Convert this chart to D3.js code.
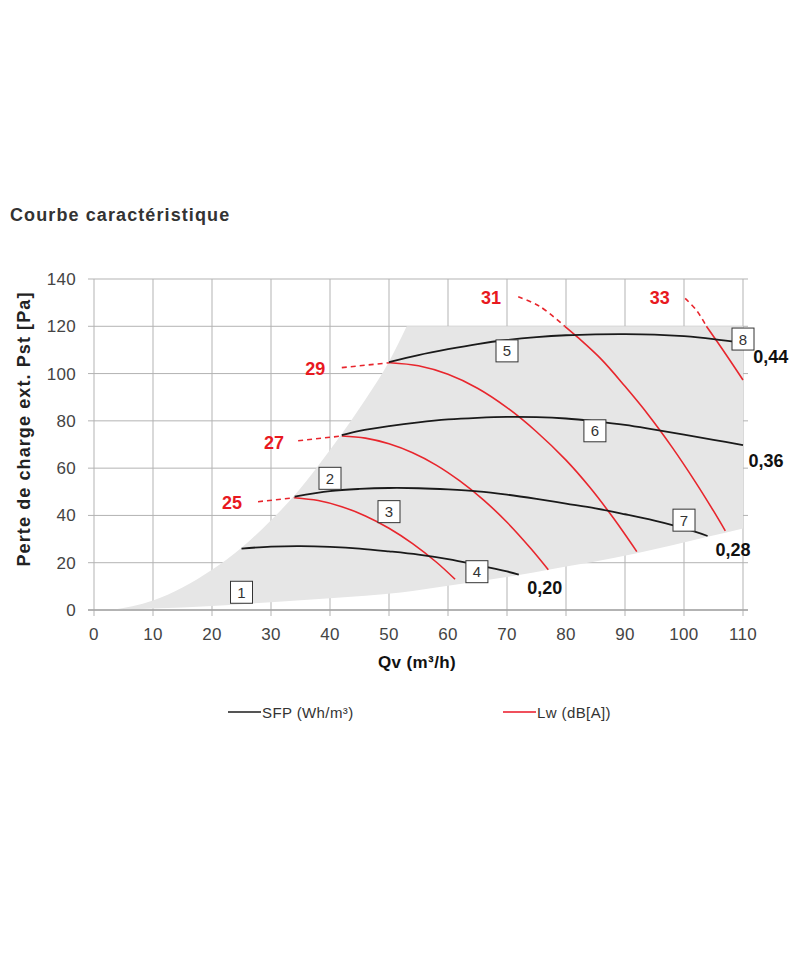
<!DOCTYPE html>
<html>
<head>
<meta charset="utf-8">
<script src="https://d3js.org/d3.v7.min.js"></script>
<style>
body { margin: 0; background: #fff; }
text { font-family: "Liberation Sans", Arial, Helvetica, sans-serif; }
.tick-label { font-size: 17px; fill: #444; letter-spacing: 0.3px; }
.grid { stroke: #b3b3b3; stroke-width: 1; }
.sfp { fill: none; stroke: #1a1a1a; stroke-width: 1.8; }
.lw { fill: none; stroke: #e8262d; stroke-width: 1.6; }
.lw-dash { fill: none; stroke: #e8262d; stroke-width: 1.6; stroke-dasharray: 5,4; }
.lw-label { font-size: 18px; font-weight: bold; fill: #e8191f; }
.sfp-label { font-size: 18px; font-weight: bold; fill: #111; }
.box rect { fill: #fff; stroke: #333; stroke-width: 1; }
.box text { font-size: 15px; fill: #333; }
</style>
</head>
<body>
<svg id="chart" width="800" height="960"></svg>
<script>
// ticks
var qTicks = [0, 10, 20, 30, 40, 50, 60, 70, 80, 90, 100, 110];
var pTicks = [0, 20, 40, 60, 80, 100, 120, 140];

// grey operating envelope (Qv, Pa)
var envelopeTop = [[3, 0], [10, 4], [20, 17], [25, 26.3], [30, 38], [34, 48.5],
                   [38, 61], [42, 74.5], [46, 89], [50, 105], [53, 120]];
var envelopeRight = [[110, 120], [110, 34.5]];
var envelopeBottom = [[3, 0], [10, 0.6], [20, 1.7], [30, 3.3], [40, 5], [52, 7.4], [60, 10.3],
                      [72, 14.8], [77, 17], [92, 24], [104, 31], [110, 34.5]];

// SFP curves (black)
var sfpNames = ["0,20", "0,28", "0,36", "0,44"];
var sfpCurves = [
  [[25, 26], [30, 26.8], [35, 27], [40, 26.7], [45, 26], [50, 24.8], [55, 23.4], [60, 21.5], [65, 19], [70, 16.3], [72, 15]],
  [[34, 48], [40, 50.3], [45, 51.2], [50, 51.6], [55, 51.5], [60, 51], [65, 50.2], [70, 48.8], [75, 47], [80, 45],
   [85, 43], [90, 40.5], [95, 37.8], [100, 34.6], [104, 31.3]],
  [[42, 74], [45, 75.8], [50, 77.8], [55, 79.4], [60, 80.6], [65, 81.3], [70, 81.7], [75, 81.6], [80, 81],
   [85, 79.8], [90, 78.3], [95, 76.3], [100, 74.2], [105, 72], [110, 69.7]],
  [[50, 104.8], [55, 107.8], [60, 110.3], [65, 112.5], [70, 114.2], [75, 115.4], [80, 116.2], [85, 116.6],
   [90, 116.7], [95, 116.5], [100, 115.8], [105, 114.6], [110, 113]]
];
var sfpLabelPos = [[76.4, 9.7], [108.3, 25.8], [113.9, 63.5], [114.7, 107.4]];

// Lw curves (red)
var lwNames = ["25", "27", "29", "31", "33"];
var lwCurves = [
  [[34, 47.5], [38, 46.3], [42, 43.7], [46, 39.8], [50, 34.6], [54, 28.1], [58, 20.3], [61.2, 13]],
  [[42, 73.6], [46, 72.7], [50, 70.3], [54, 66.5], [58, 61.3], [62, 54.6], [66, 46.6], [70, 37.1], [74, 26.1], [77, 17]],
  [[50.2, 104.6], [55, 103.3], [60, 99.7], [65, 93.8], [70, 85.6], [75, 75.4], [80, 63.4], [84, 52], [88, 39], [92, 24.7]],
  [[79.8, 120], [82, 115.3], [86, 106], [90, 94.6], [94, 82.4], [98, 68.8], [102, 53.9], [105, 41.9], [107, 33.5]],
  [[103.8, 120], [107, 108.5], [110, 97.3]]
];
var lwDashes = [
  [[27.8, 45.8], [34, 47.5]],
  [[34.6, 71.6], [42, 73.6]],
  [[42, 102.5], [50.2, 104.6]],
  [[71.9, 132.5], [75.5, 128.5], [79.8, 120]],
  [[100.2, 131.8], [102.2, 126.5], [103.8, 120]]
];
var lwLabelPos = [[23.4, 45.7], [30.5, 71.1], [37.5, 102.4], [67.3, 132.2], [95.9, 132.2]];

// numbered operating points
var boxNumbers = ["1", "2", "3", "4", "5", "6", "7", "8"];
var boxPos = [[25, 7.5], [40, 55.7], [50, 41.6], [64.9, 16.2], [70, 109.6], [84.9, 75.8], [100, 38], [110, 114.6]];

var svg = d3.select("#chart");

var x = d3.scaleLinear().domain([0, 110]).range([94, 743]);
var y = d3.scaleLinear().domain([0, 140]).range([610, 279]);

// title
svg.append("text")
  .attr("x", 10).attr("y", 221)
  .style("font-size", "18px").style("font-weight", "bold").style("fill", "#333")
  .style("letter-spacing", "1.1px")
  .text("Courbe caractéristique");

// grid
svg.append("g").selectAll("line").data(pTicks).enter().append("line")
  .attr("class", "grid")
  .attr("x1", x(0) - 6).attr("x2", x(110) + 5)
  .attr("y1", function(d){ return y(d) }).attr("y2", function(d){ return y(d) });

svg.append("g").selectAll("line").data(qTicks).enter().append("line")
  .attr("class", "grid")
  .attr("x1", function(d){ return x(d) }).attr("x2", function(d){ return x(d) })
  .attr("y1", y(140)).attr("y2", y(0) + 6);

// envelope: curved top and bottom, straight top/right edges
var smooth = d3.line()
  .x(function(d){ return x(d[0]) })
  .y(function(d){ return y(d[1]) })
  .curve(d3.curveMonotoneX);
var bottomPath = smooth(envelopeBottom.slice().reverse());
var envD = smooth(envelopeTop)
  + envelopeRight.map(function(d){ return "L" + x(d[0]) + "," + y(d[1]) }).join("")
  + "L" + bottomPath.slice(1) + "Z";
svg.append("path")
  .attr("d", envD)
  .style("fill", "#e6e6e6");

// x base line on top of envelope
svg.append("line").attr("class", "grid")
  .attr("x1", x(0) - 6).attr("x2", x(110) + 5).attr("y1", y(0)).attr("y2", y(0))
  .style("stroke", "#a6a6a6").style("stroke-width", 1.5);

// tick labels
svg.append("g").selectAll("text").data(qTicks).enter().append("text")
  .attr("class", "tick-label")
  .attr("text-anchor", "middle")
  .attr("x", function(d){ return x(d) }).attr("y", 640)
  .text(function(d){ return d });

svg.append("g").selectAll("text").data(pTicks).enter().append("text")
  .attr("class", "tick-label")
  .attr("text-anchor", "end")
  .attr("x", 76).attr("y", function(d){ return y(d) + 6 })
  .text(function(d){ return d });

// axis titles
svg.append("text")
  .attr("text-anchor", "middle")
  .attr("x", 417).attr("y", 668)
  .style("font-size", "17px").style("font-weight", "bold").style("fill", "#111")
  .style("letter-spacing", "0.4px")
  .text("Qv (m³/h)");

svg.append("text")
  .attr("text-anchor", "middle")
  .attr("transform", "translate(30,429) rotate(-90)")
  .style("font-size", "18px").style("font-weight", "bold").style("fill", "#222")
  .style("letter-spacing", "1.1px")
  .text("Perte de charge ext. Pst [Pa]");

var line = d3.line()
  .x(function(d){ return x(d[0]) })
  .y(function(d){ return y(d[1]) })
  .curve(d3.curveCatmullRom.alpha(0.5));

// red Lw lines
svg.append("g").selectAll("path").data(lwDashes).enter().append("path")
  .attr("class", "lw-dash").attr("d", line);
svg.append("g").selectAll("path").data(lwCurves).enter().append("path")
  .attr("class", "lw").attr("d", line);

// black SFP lines
svg.append("g").selectAll("path").data(sfpCurves).enter().append("path")
  .attr("class", "sfp").attr("d", line);

// labels
svg.append("g").selectAll("text").data(lwNames).enter().append("text")
  .attr("class", "lw-label")
  .attr("text-anchor", "middle")
  .attr("x", function(d, i){ return x(lwLabelPos[i][0]) })
  .attr("y", function(d, i){ return y(lwLabelPos[i][1]) + 7 })
  .text(function(d){ return d });

svg.append("g").selectAll("text").data(sfpNames).enter().append("text")
  .attr("class", "sfp-label")
  .attr("text-anchor", "middle")
  .attr("x", function(d, i){ return x(sfpLabelPos[i][0]) })
  .attr("y", function(d, i){ return y(sfpLabelPos[i][1]) + 7 })
  .text(function(d){ return d });

// boxes
var boxes = svg.append("g").selectAll("g").data(boxNumbers).enter().append("g")
  .attr("class", "box")
  .attr("transform", function(d, i){ return "translate(" + x(boxPos[i][0]) + "," + y(boxPos[i][1]) + ")" });
boxes.append("rect").attr("x", -11).attr("y", -11).attr("width", 22).attr("height", 22);
boxes.append("text").attr("text-anchor", "middle").attr("y", 5.5).text(function(d){ return d });

// legend
var legend = [{ name: "SFP (Wh/m³)", color: "#555", x: 228 }, { name: "Lw (dB[A])", color: "#f0505c", x: 503 }];
var lg = svg.append("g").selectAll("g").data(legend).enter().append("g")
  .attr("transform", function(d){ return "translate(" + d.x + ",712)" });
lg.append("line").attr("x1", 0).attr("x2", 33).attr("y1", 0).attr("y2", 0)
  .style("stroke", function(d){ return d.color }).style("stroke-width", 2);
lg.append("text").attr("x", 34).attr("y", 5.5)
  .style("font-size", "15px").style("fill", "#333").style("letter-spacing", "0.4px")
  .text(function(d){ return d.name });
</script>
</body>
</html>
